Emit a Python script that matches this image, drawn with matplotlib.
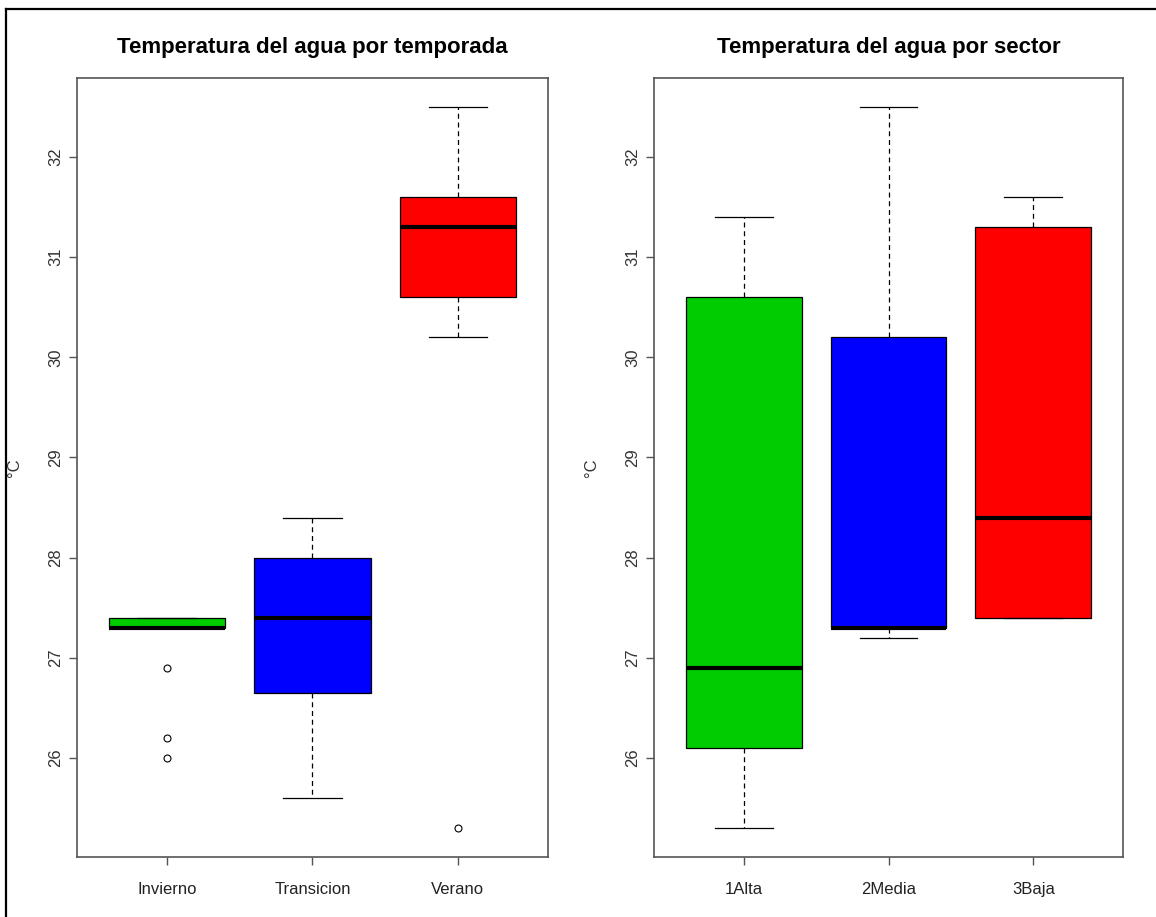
import matplotlib.pyplot as plt
from matplotlib.lines import Line2D

# temporada
temporadas = ['Invierno', 'Transicion', 'Verano']
temp_whislo = [27.3, 25.6, 30.2]
temp_q1 = [27.3, 26.65, 30.6]
temp_med = [27.3, 27.4, 31.3]
temp_q3 = [27.4, 28.0, 31.6]
temp_whishi = [27.4, 28.4, 32.5]
temp_fliers = [[26.9, 26.2, 26.0], [], [25.3]]

# sector
sectores = ['1Alta', '2Media', '3Baja']
sec_whislo = [25.3, 27.2, 27.4]
sec_q1 = [26.1, 27.3, 27.4]
sec_med = [26.9, 27.3, 28.4]
sec_q3 = [30.6, 30.2, 31.3]
sec_whishi = [31.4, 32.5, 31.6]
sec_fliers = [[], [], []]

colores = ['#00CD00', '#0000FF', '#FF0000']

fuente = ['Liberation Sans', 'DejaVu Sans']


def make_stats(labels, lo, q1, med, q3, hi, fl):
    stats = []
    for i in range(len(labels)):
        stats.append(dict(label=labels[i], whislo=lo[i], q1=q1[i], med=med[i],
                          q3=q3[i], whishi=hi[i], fliers=fl[i]))
    return stats


def draw_panel(ax, stats, titulo):
    bp = ax.bxp(stats, positions=[1, 2, 3], widths=0.8, capwidths=0.4,
                patch_artist=True,
                boxprops=dict(edgecolor='black', linewidth=0.9),
                whiskerprops=dict(color='black', linewidth=0.9, linestyle=(0, (4, 3))),
                capprops=dict(color='black', linewidth=0.9),
                medianprops=dict(color='black', linewidth=3.0, solid_capstyle='butt'),
                flierprops=dict(marker='o', markerfacecolor='none', markeredgecolor='black',
                                markersize=5, markeredgewidth=0.8))
    for patch, c in zip(bp['boxes'], colores):
        patch.set_facecolor(c)

    vals = []
    for s in stats:
        vals += [s['whislo'], s['whishi']] + list(s['fliers'])
    lo, hi = min(vals), max(vals)
    pad = 0.04 * (hi - lo)
    ax.set_ylim(lo - pad, hi + pad)
    ax.set_xlim(0.5 - 0.12, 3.5 + 0.12)

    ax.set_yticks([26, 27, 28, 29, 30, 31, 32])
    for lbl in ax.get_yticklabels():
        lbl.set_rotation(90)
        lbl.set_va('center')
        lbl.set_family(fuente)
        lbl.set_fontsize(12)
        lbl.set_color('#333333')
    for lbl in ax.get_xticklabels():
        lbl.set_family(fuente)
        lbl.set_fontsize(12)
        lbl.set_color('#222222')
    ax.tick_params(axis='both', length=6, width=1.0, color='#555555')
    ax.tick_params(axis='x', pad=12)
    ax.tick_params(axis='y', pad=4)

    for sp in ax.spines.values():
        sp.set_color('#555555')
        sp.set_linewidth(1.2)

    ax.set_title(titulo, fontsize=16, fontweight='bold', family=fuente, pad=18)
    ax.set_ylabel('°C', fontsize=12, family=fuente, color='#333333')
    ax.yaxis.set_label_coords(-0.117, 0.5)


fig = plt.figure(figsize=(11.56, 9.17), dpi=100)
ax1 = fig.add_axes([77 / 1156, 1 - 857 / 917, 471 / 1156, 779 / 917])
ax2 = fig.add_axes([654 / 1156, 1 - 857 / 917, 469 / 1156, 779 / 917])

draw_panel(ax1, make_stats(temporadas, temp_whislo, temp_q1, temp_med, temp_q3,
                           temp_whishi, temp_fliers),
           'Temperatura del agua por temporada')
draw_panel(ax2, make_stats(sectores, sec_whislo, sec_q1, sec_med, sec_q3,
                           sec_whishi, sec_fliers),
           'Temperatura del agua por sector')

# marco de la captura
fig.add_artist(Line2D([6 / 1156, 1], [1 - 9 / 917, 1 - 9 / 917], color='black',
                      linewidth=1.6, transform=fig.transFigure))
fig.add_artist(Line2D([6 / 1156, 6 / 1156], [0, 1 - 9 / 917], color='black',
                      linewidth=1.6, transform=fig.transFigure))

fig.savefig('out.png', dpi=100)
